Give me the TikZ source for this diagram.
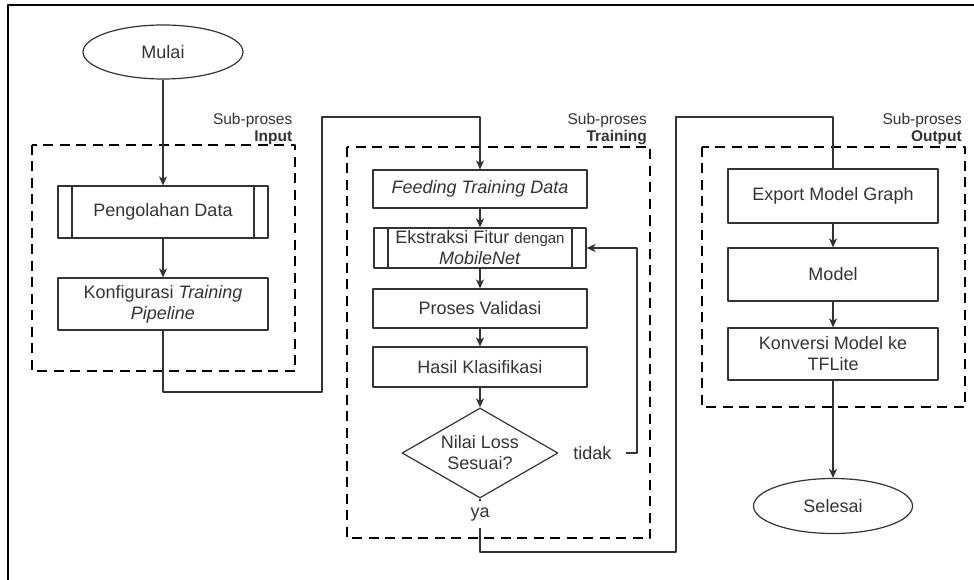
\documentclass[tikz,border=0pt]{standalone}
\usepackage{fontspec}
\setmainfont{Liberation Sans}
\usetikzlibrary{arrows.meta,shapes.geometric}

\begin{document}
\begin{tikzpicture}[x=1pt,y=-1pt,>={Stealth[length=9pt,width=8pt,inset=2.5pt]},line join=round,
  box/.style={draw=black!80,line width=1.2pt,rectangle,minimum width=210pt,align=center,text=black!80,font=\fontsize{18}{21}\selectfont,inner sep=2pt},
  subbox/.style={box,path picture={\draw[black!80,line width=1.2pt] ([xshift=14pt]path picture bounding box.north west) -- ([xshift=14pt]path picture bounding box.south west) ([xshift=-14pt]path picture bounding box.north east) -- ([xshift=-14pt]path picture bounding box.south east);}},
  term/.style={ellipse,draw=black!80,line width=1.2pt,minimum width=160pt,minimum height=54pt,inner sep=0pt,text=black!80,font=\fontsize{18}{21}\selectfont},
  choice/.style={diamond,draw=black!80,line width=1.2pt,minimum width=156pt,minimum height=90pt,inner sep=0pt,aspect=1.7,align=center,text=black!80,font=\fontsize{18}{21}\selectfont},
  group/.style={draw=black,line width=2.6pt,dash pattern=on 10pt off 6.5pt},
  grouplbl/.style={anchor=south east,align=right,inner sep=1pt,text=black!80,font=\fontsize{15.5}{17.5}\selectfont},
  flow/.style={draw=black!80,line width=1.2pt},
  lbl/.style={fill=white,text=black!80,font=\fontsize{18}{21}\selectfont}]
  \useasboundingbox (0,0) rectangle (974,580);
  \draw[line width=2pt] (8,580) -- (8,5) -- (974,5);
  \draw[group] (32,145) rectangle (295,371);
  \draw[group] (347,147) rectangle (650,538);
  \draw[group] (702,147) rectangle (965,407);
  \node[grouplbl] (lblin) at (293.5,146) {Sub-proses\\\textbf{Input}};
  \node[grouplbl] (lbltr) at (648,146) {Sub-proses\\\textbf{Training}};
  \node[grouplbl] (lblout) at (963,146) {Sub-proses\\\textbf{Output}};
  \node[term] (mulai) at (163,52) {Mulai};
  \node[subbox,minimum height=52pt] (olah) at (163,212) {Pengolahan Data};
  \node[box,minimum height=52pt] (konfig) at (163,304) {Konfigurasi \textit{Training}\\\textit{Pipeline}};
  \node[box,minimum width=214pt,minimum height=38pt] (feed) at (480,189) {\textit{Feeding Training Data}};
  \node[subbox,minimum width=212pt,minimum height=40pt] (ekstr) at (480,248) {Ekstraksi Fitur {\fontsize{15}{21}\selectfont dengan}\\\textit{MobileNet}};
  \node[box,minimum width=214pt,minimum height=39pt] (valid) at (480,308.5) {Proses Validasi};
  \node[box,minimum width=214pt,minimum height=40pt] (hasil) at (480,367) {Hasil Klasifikasi};
  \node[choice] (loss) at (480,453) {Nilai Loss\\Sesuai?};
  \node[box,minimum height=54pt] (export) at (833,196) {Export Model Graph};
  \node[box,minimum height=53pt] (model) at (833,274.5) {Model};
  \node[box,minimum height=52pt] (konv) at (833,354) {Konversi Model ke\\TFLite};
  \node[term,minimum width=159pt,minimum height=55pt] (selesai) at (833,506) {Selesai};
  \coordinate (inA) at (322,392);
  \coordinate (inB) at (322,117);
  \coordinate (back) at (637,453);
  \coordinate (yaB) at (480,552);
  \coordinate (outA) at (676,117);
  \draw[flow,->] (mulai) -- (olah);
  \draw[flow,->] (olah) -- (konfig);
  \draw[flow,->] (konfig.south) |- (inA) -- (inB) -| (feed.north);
  \draw[flow,->] (feed) -- (ekstr);
  \draw[flow,->] (ekstr) -- (valid);
  \draw[flow,->] (valid) -- (hasil);
  \draw[flow,->] (hasil) -- (loss);
  \draw[flow,->] (loss.east) -- node[lbl,pos=0.43,inner xsep=15pt,inner ysep=1pt] (tidak) {tidak} (back) |- (ekstr.east);
  \draw[flow] (loss.south) -- node[lbl,pos=0.3,inner xsep=2pt,inner ysep=7pt] (ya) {ya} (yaB) -| (outA) -| (export.north);
  \draw[flow,->] (export) -- (model);
  \draw[flow,->] (model) -- (konv);
  \draw[flow,->] (konv) -- (selesai);
\end{tikzpicture}
\end{document}
